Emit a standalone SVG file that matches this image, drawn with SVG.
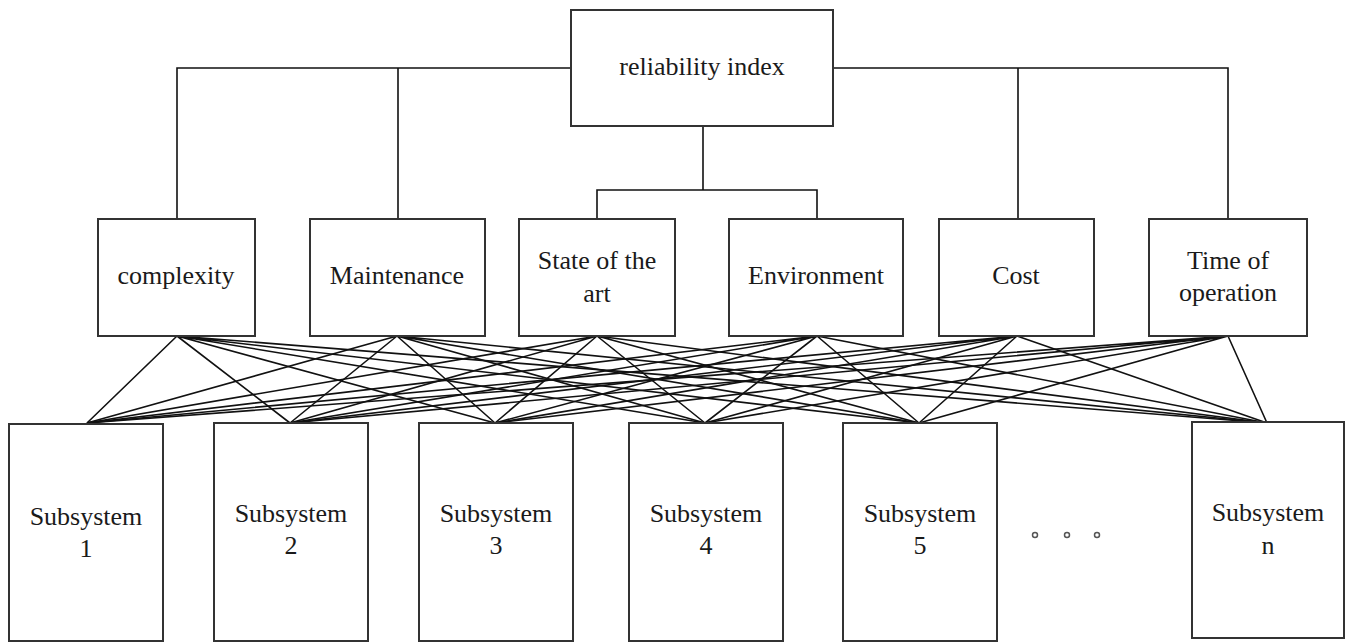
<svg xmlns="http://www.w3.org/2000/svg" width="1346" height="643" viewBox="0 0 1346 643">
<style>
.box{fill:#fff;stroke:#333;stroke-width:2}
.ln{stroke:#111;stroke-width:1.6;fill:none}
.t{font-family:"Liberation Serif","Times New Roman",serif;font-size:26px;fill:#1a1a1a;text-anchor:middle}
.dot{fill:none;stroke:#555;stroke-width:1.5}
</style>
<rect width="1346" height="643" fill="#fff"/>
<g id="connectors">
<path class="ln" d="M571 68H177V219M398 68V219M833 68H1228V219M1018 68V219M703 126V190M597 219V190H817V219"/>
<g class="ln">
<path d="M177 336L87 423M177 336L290 423M177 336L495 423M177 336L705 423M177 336L919 423M177 336L1267 423"/>
<path d="M397 336L87 423M397 336L290 423M397 336L495 423M397 336L705 423M397 336L919 423M397 336L1267 423"/>
<path d="M597 336L87 423M597 336L290 423M597 336L495 423M597 336L705 423M597 336L919 423M597 336L1267 423"/>
<path d="M817 336L87 423M817 336L290 423M817 336L495 423M817 336L705 423M817 336L919 423M817 336L1267 423"/>
<path d="M1017 336L87 423M1017 336L290 423M1017 336L495 423M1017 336L705 423M1017 336L919 423M1017 336L1267 423"/>
<path d="M1228 336L87 423M1228 336L290 423M1228 336L495 423M1228 336L705 423M1228 336L919 423M1228 336L1267 423"/>
</g>
</g>
<g id="reliability-index"><rect class="box" x="571" y="10" width="262" height="116"/><text class="t" x="702" y="75">reliability index</text></g>
<g id="complexity"><rect class="box" x="98" y="219" width="157" height="117"/><text class="t" x="176" y="284">complexity</text></g>
<g id="maintenance"><rect class="box" x="310" y="219" width="175" height="117"/><text class="t" x="397" y="284">Maintenance</text></g>
<g id="state-of-the-art"><rect class="box" x="519" y="219" width="156" height="117"/><text class="t" x="597" y="269">State of the</text><text class="t" x="597" y="302">art</text></g>
<g id="environment"><rect class="box" x="729" y="219" width="174" height="117"/><text class="t" x="816" y="284">Environment</text></g>
<g id="cost"><rect class="box" x="939" y="219" width="155" height="117"/><text class="t" x="1016" y="284">Cost</text></g>
<g id="time-of-operation"><rect class="box" x="1149" y="219" width="158" height="117"/><text class="t" x="1228" y="269">Time of</text><text class="t" x="1228" y="301">operation</text></g>
<g id="subsystem-1"><rect class="box" x="9" y="424" width="154" height="217"/><text class="t" x="86" y="525">Subsystem</text><text class="t" x="86" y="557">1</text></g>
<g id="subsystem-2"><rect class="box" x="214" y="423" width="154" height="218"/><text class="t" x="291" y="522">Subsystem</text><text class="t" x="291" y="554">2</text></g>
<g id="subsystem-3"><rect class="box" x="419" y="423" width="154" height="218"/><text class="t" x="496" y="522">Subsystem</text><text class="t" x="496" y="554">3</text></g>
<g id="subsystem-4"><rect class="box" x="629" y="423" width="154" height="218"/><text class="t" x="706" y="522">Subsystem</text><text class="t" x="706" y="554">4</text></g>
<g id="subsystem-5"><rect class="box" x="843" y="423" width="154" height="218"/><text class="t" x="920" y="522">Subsystem</text><text class="t" x="920" y="554">5</text></g>
<g id="ellipsis"><circle class="dot" cx="1035" cy="535" r="2.5"/><circle class="dot" cx="1067" cy="535" r="2.5"/><circle class="dot" cx="1097" cy="535" r="2.5"/></g>
<g id="subsystem-n"><rect class="box" x="1192" y="422" width="152" height="216"/><text class="t" x="1268" y="521">Subsystem</text><text class="t" x="1268" y="554">n</text></g>
</svg>
